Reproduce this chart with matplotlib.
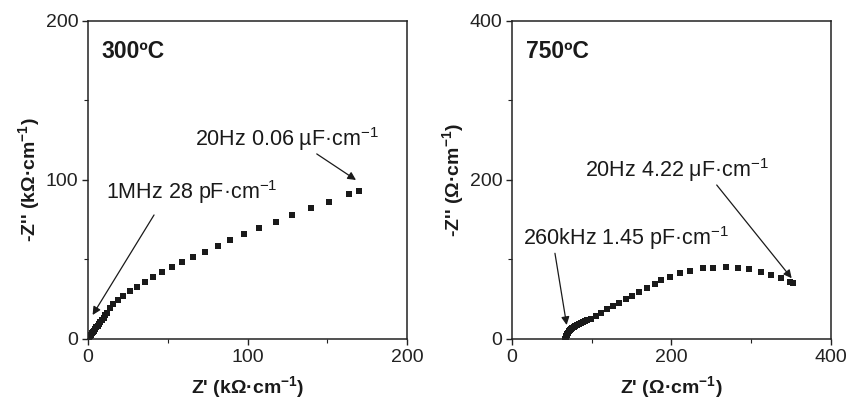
import matplotlib
matplotlib.use("Agg")
import matplotlib.pyplot as plt
from matplotlib.ticker import MultipleLocator

plt.rcParams['font.family'] = ['Liberation Sans', 'DejaVu Sans']
plt.rcParams['mathtext.fontset'] = 'custom'
plt.rcParams['mathtext.rm'] = 'Liberation Sans'
plt.rcParams['mathtext.bf'] = 'Liberation Sans:bold'

# 300 ºC  (Z' and -Z'' in kOhm·cm^-1)
z_re_300 = [0.4, 0.8, 1.3, 1.8, 2.4, 3.0, 3.7, 4.4, 5.2, 6.0, 6.9, 7.8, 8.8,
            9.8, 10.9, 12.0, 13.8, 15.9, 19.0, 22.1, 26.1, 30.5, 35.5, 41.0,
            46.6, 52.6, 58.9, 65.8, 73.3, 81.2, 89.1, 98.1, 107.5, 117.7,
            128.2, 139.5, 151.1, 163.7, 169.9]
z_im_300 = [0.5, 1.2, 1.9, 2.7, 3.5, 4.4, 5.3, 6.3, 7.3, 8.4, 9.6, 10.8, 12.1,
            13.4, 14.8, 16.2, 19.3, 21.8, 24.5, 27.0, 30.2, 32.9, 36.1, 39.2,
            42.1, 45.1, 48.4, 51.4, 54.9, 58.5, 62.3, 65.8, 69.6, 73.8,
            78.0, 82.2, 86.4, 91.0, 93.1]

# 750 ºC  (Z' and -Z'' in Ohm·cm^-1)
z_re_750 = [67.0, 67.5, 68.0, 68.7, 69.5, 70.5, 71.6, 72.8, 74.2, 75.8, 77.5,
            79.4, 81.5, 83.8, 86.2, 88.8, 91.6, 94.6, 98.6, 104.9, 111.6,
            118.7, 126.2, 134.2, 142.5, 150.9, 159.2, 168.9, 179.3, 186.8,
            198.1, 210.7, 223.2, 239.1, 252.4, 267.9, 283.0, 297.6, 311.8,
            324.4, 337.0, 348.6, 352.8]
z_im_750 = [0.5, 2.0, 3.5, 5.0, 6.5, 8.0, 9.5, 11.0, 12.4, 13.8, 15.1,
            16.4, 17.7, 19.0, 20.3, 21.6, 22.9, 24.3, 25.5, 29.3, 33.1,
            37.4, 41.1, 45.7, 49.9, 54.5, 58.7, 63.7, 69.2, 74.2,
            78.4, 82.6, 85.5, 88.9, 89.7, 91.0, 89.7, 87.6, 83.9,
            80.5, 76.3, 72.1, 70.0]

fig = plt.figure(figsize=(8.51, 3.99), dpi=100)
ax1 = fig.add_axes([0.1034, 0.1504, 0.3749, 0.797])
ax2 = fig.add_axes([0.6016, 0.1504, 0.3749, 0.797])

mk = dict(marker='s', linestyle='none', color='#1a1a1a', markersize=4.5,
          markeredgewidth=0)
ax1.plot(z_re_300, z_im_300, **mk)
ax2.plot(z_re_750, z_im_750, **mk)

sup = r'$^{\mathbf{-1}}$'
lab = dict(fontsize=14, fontweight='bold', color='#1a1a1a')
ax1.set_xlabel("Z' (kΩ·cm" + sup + ")", labelpad=6, **lab)
ax1.set_ylabel("-Z'' (kΩ·cm" + sup + ")", labelpad=2, **lab)
ax2.set_xlabel("Z' (Ω·cm" + sup + ")", labelpad=6, **lab)
ax2.set_ylabel("-Z'' (Ω·cm" + sup + ")", labelpad=2, **lab)

for ax, lim, step in [(ax1, 200, 100), (ax2, 400, 200)]:
    ax.set_xlim(0, lim)
    ax.set_ylim(0, lim)
    ax.xaxis.set_major_locator(MultipleLocator(step))
    ax.yaxis.set_major_locator(MultipleLocator(step))
    ax.xaxis.set_minor_locator(MultipleLocator(step / 2))
    ax.yaxis.set_minor_locator(MultipleLocator(step / 2))
    ax.tick_params(which='major', direction='out', length=4, width=1,
                   labelsize=14, colors='#222222', pad=3)
    ax.tick_params(which='minor', direction='out', length=3, width=0.8,
                   colors='#222222')
    for s in ax.spines.values():
        s.set_linewidth(1.1)
        s.set_color('#222222')

ttl = dict(fontsize=16.5, fontweight='bold', va='center', ha='left',
           color='#1a1a1a')
ax1.text(0.043, 0.905, '300ºC', transform=ax1.transAxes, **ttl)
ax2.text(0.043, 0.905, '750ºC', transform=ax2.transAxes, **ttl)

arrow = dict(arrowstyle='-|>', color='#1a1a1a', lw=0.9, mutation_scale=12,
             shrinkA=0, shrinkB=0)
ann = dict(fontsize=15.5, ha='left', va='baseline', color='#1a1a1a')
ax1.annotate('', xy=(168.0, 100.0), xytext=(143.4, 116.4), arrowprops=arrow)
ax1.text(67.1, 121.4, '20Hz 0.06 µF·cm' + r'$^{-1}$', **ann)
ax1.annotate('', xy=(2.9, 15.1), xytext=(41.4, 78.0), arrowprops=arrow)
ax1.text(11.3, 88.0, '1MHz 28 pF·cm' + r'$^{-1}$', **ann)

ax2.annotate('', xy=(350.7, 76.4), xytext=(256.7, 193.7), arrowprops=arrow)
ax2.text(91.5, 204.0, '20Hz 4.22 μF·cm' + r'$^{-1}$', **ann)
ax2.annotate('', xy=(68.6, 17.6), xytext=(53.9, 107.8), arrowprops=arrow)
ax2.text(14.2, 118.2, '260kHz 1.45 pF·cm' + r'$^{-1}$', **ann)

fig.savefig('out.png', dpi=100)
